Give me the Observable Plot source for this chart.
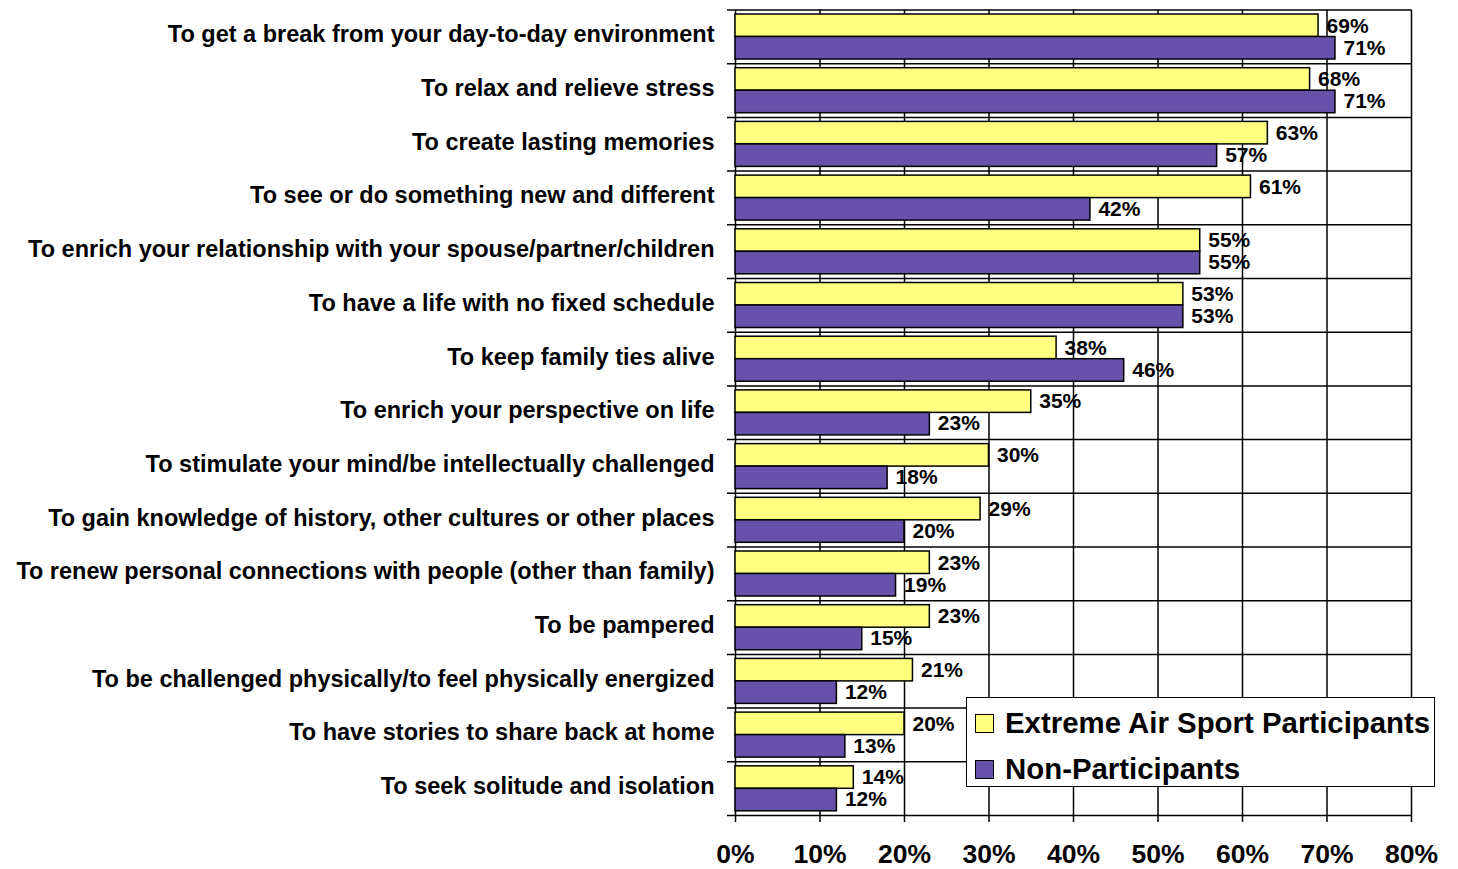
<!DOCTYPE html>
<html><head><meta charset="utf-8">
<script src="https://cdn.jsdelivr.net/npm/d3@7"></script>
<script src="https://cdn.jsdelivr.net/npm/@observablehq/plot@0.6"></script>
<style>
html,body{margin:0;padding:0;background:#fff;}
#wrap{position:relative;width:1458px;height:869px;overflow:hidden;}
.legend{position:absolute;left:966px;top:697px;width:467px;height:88px;border:1.5px solid #000;background:#fff;
  font-family:"Liberation Sans",Arial,sans-serif;font-weight:bold;font-size:29.4px;color:#000;}
.legend .row{position:absolute;left:8px;height:20px;display:flex;align-items:center;white-space:nowrap;}
.legend .sw{width:17px;height:17px;border:1.5px solid #000;margin-right:11px;flex:none;}
</style>
</head><body>
<div id="wrap"></div>
<script>
const categories = [
  "To get a break from your day-to-day environment",
  "To relax and relieve stress",
  "To create lasting memories",
  "To see or do something new and different",
  "To enrich your relationship with your spouse/partner/children",
  "To have a life with no fixed schedule",
  "To keep family ties alive",
  "To enrich your perspective on life",
  "To stimulate your mind/be intellectually challenged",
  "To gain knowledge of history, other cultures or other places",
  "To renew personal connections with people (other than family)",
  "To be pampered",
  "To be challenged physically/to feel physically energized",
  "To have stories to share back at home",
  "To seek solitude and isolation"
];
const participants    = [69, 68, 63, 61, 55, 53, 38, 35, 30, 29, 23, 23, 21, 20, 14];
const nonParticipants = [71, 71, 57, 42, 55, 53, 46, 23, 18, 20, 19, 15, 12, 13, 12];
const seriesNames = ["Extreme Air Sport Participants", "Non-Participants"];
const seriesColors = ["#FFFF80", "#6652AA"];
const xTicks = [0, 10, 20, 30, 40, 50, 60, 70, 80];

const W = 1458, H = 869, mTop = 9.5, mBottom = 54, mLeft = 735, mRight = 47;
const bw = (H - mTop - mBottom) / categories.length;
const font = '"Liberation Sans", Arial, sans-serif';

const s0 = categories.map((c, i) => ({category: c, series: seriesNames[0], value: participants[i]}));
const s1 = categories.map((c, i) => ({category: c, series: seriesNames[1], value: nonParticipants[i]}));

const chart = Plot.plot({
  width: W, height: H,
  marginTop: mTop, marginBottom: mBottom, marginLeft: mLeft, marginRight: mRight,
  style: {fontFamily: font, fontWeight: "bold", color: "#000", background: "#fff", overflow: "visible"},
  x: {domain: [0, 80], round: false},
  y: {domain: categories, padding: 0, round: false},
  color: {domain: seriesNames, range: seriesColors},
  marks: [
    Plot.ruleX(xTicks, {stroke: "#000", strokeWidth: 1.5}),
    Plot.ruleY(categories, {y: d => d, dy: -bw / 2, stroke: "#000", strokeWidth: 1.5, insetLeft: -8}),
    Plot.ruleY([categories[categories.length - 1]], {y: d => d, dy: bw / 2, stroke: "#000", strokeWidth: 1.5, insetLeft: -8}),
    Plot.barX(s0, {x: "value", y: "category", fill: "series", stroke: "#000", strokeWidth: 1.5, insetTop: 4.5, insetBottom: bw - 27}),
    Plot.barX(s1, {x: "value", y: "category", fill: "series", stroke: "#000", strokeWidth: 1.5, insetTop: 27, insetBottom: 4.2}),
    Plot.text(s0, {x: "value", y: "category", text: d => d.value + "%", dx: 8, dy: -11, textAnchor: "start", fontSize: 21, fontWeight: "bold", fill: "#000"}),
    Plot.text(s1, {x: "value", y: "category", text: d => d.value + "%", dx: 8, dy: 11, textAnchor: "start", fontSize: 21, fontWeight: "bold", fill: "#000"}),
    Plot.axisY({tickSize: 0, tickPadding: 21, fontSize: 23.5, fontWeight: "bold", label: null, dy: -2}),
    Plot.axisX(xTicks, {tickFormat: d => d + "%", tickSize: 7, tickPadding: 22, fontSize: 26.5, fontWeight: "bold", strokeWidth: 1.5, label: null})
  ]
});
const wrap = document.getElementById("wrap");
wrap.appendChild(chart);

const legend = document.createElement("div");
legend.className = "legend";
seriesNames.forEach((name, i) => {
  const row = document.createElement("div");
  row.className = "row";
  row.style.top = (15 + i * 46) + "px";
  const sw = document.createElement("div");
  sw.className = "sw";
  sw.style.background = seriesColors[i];
  const t = document.createElement("span");
  t.textContent = name;
  row.appendChild(sw); row.appendChild(t);
  legend.appendChild(row);
});
wrap.appendChild(legend);
</script>
</body></html>
